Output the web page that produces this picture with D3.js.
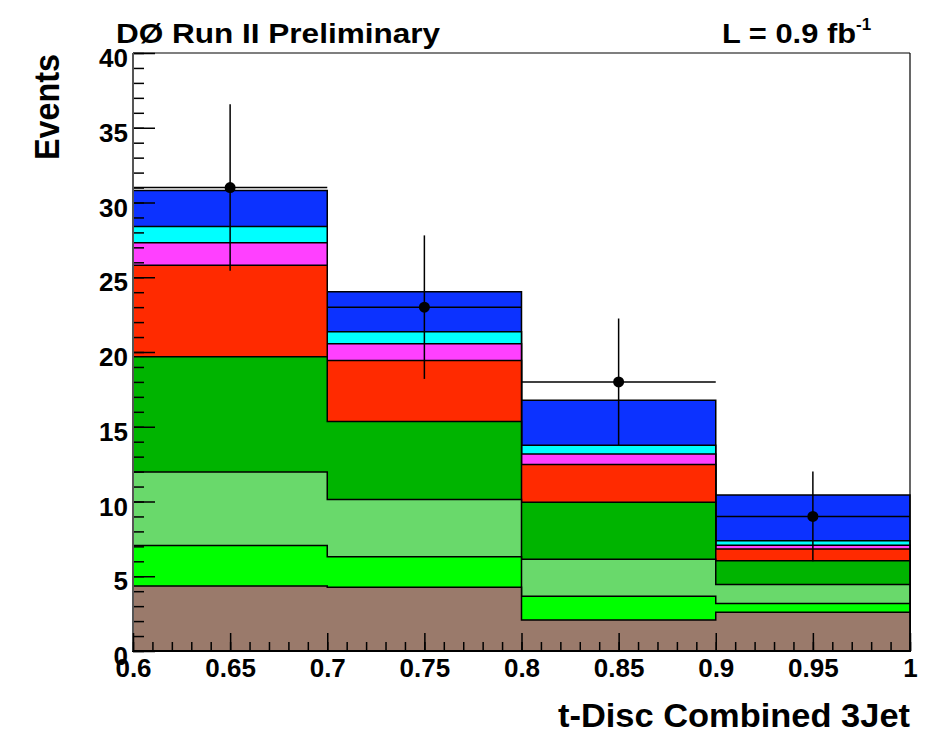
<!DOCTYPE html>
<html>
<head>
<meta charset="utf-8">
<script src="https://cdn.jsdelivr.net/npm/d3@7/dist/d3.min.js"></script>
<style>
  html, body { margin: 0; padding: 0; background: #fff; }
  svg { display: block; font-family: "Liberation Sans", Arial, Helvetica, sans-serif; font-weight: bold; }
</style>
</head>
<body>
<svg id="chart" width="936" height="730"></svg>
<script>
// Bin edges of the discriminant histogram
const binEdges = [0.6, 0.7, 0.8, 0.9, 1.0];

// Per-bin expected yields, stacked bottom to top
const multijet = [4.35, 4.26, 2.07, 2.59];
const wjj      = [2.70, 2.05, 1.59, 0.58];
const wcc      = [4.93, 3.82, 2.48, 1.27];
const wbb      = [7.70, 5.22, 3.81, 1.60];
const ttLjets  = [6.12, 4.08, 2.52, 0.79];
const ttDilep  = [1.50, 1.12, 0.70, 0.24];
const tb       = [1.10, 0.80, 0.60, 0.31];
const tqb      = [2.40, 2.68, 3.01, 3.06];

const layerNames  = ["multijet", "wjj", "wcc", "wbb", "ttLjets", "ttDilep", "tb", "tqb"];
const layerValues = [multijet, wjj, wcc, wbb, ttLjets, ttDilep, tb, tqb];
const layerColors = ["#9a7a6b", "#00ff00", "#69d96b", "#00b400", "#ff2a00", "#ff40ff", "#00ffff", "#0c32ff"];

// Observed events and their uncertainties
const dataCounts = [31, 23, 18, 9];
const dataErrors = [5.57, 4.80, 4.24, 3.00];

const yTicks = [0, 5, 10, 15, 20, 25, 30, 35, 40];
const xTicks = [0.6, 0.65, 0.7, 0.75, 0.8, 0.85, 0.9, 0.95, 1];

const svg = d3.select("#chart");
const plotL = 133, plotR = 910, plotT = 53, plotB = 651;

const x = d3.scaleLinear().domain([0.6, 1.0]).range([plotL, plotR]);
const y = d3.scaleLinear().domain([0, 40]).range([plotB, plotT]);

// Build stack table
const rows = dataCounts.map((_, i) => {
  const r = { bin: i };
  layerNames.forEach((n, k) => { r[n] = layerValues[k][i]; });
  return r;
});
const stacked = d3.stack().keys(layerNames)(rows);

// Step outline for a cumulative histogram
function stepPath(tops) {
  let p = `M${x(binEdges[0])},${y(0)}`;
  tops.forEach((v, i) => {
    p += `L${x(binEdges[i])},${y(v)}L${x(binEdges[i + 1])},${y(v)}`;
  });
  p += `L${x(binEdges[binEdges.length - 1])},${y(0)}Z`;
  return p;
}

const g = svg.append("g");
// Draw from the top of the stack downward so each lower fill covers the one above
stacked.slice().reverse().forEach((layer, idx) => {
  const k = layerNames.length - 1 - idx;
  g.append("path")
    .attr("d", stepPath(layer.map(d => d[1])))
    .attr("fill", layerColors[k])
    .attr("stroke", "#000")
    .attr("stroke-width", 1.5)
    .attr("stroke-linejoin", "miter");
});

// Data points with error bars
const dg = svg.append("g");
dataCounts.forEach((v, i) => {
  const xc = x((binEdges[i] + binEdges[i + 1]) / 2);
  dg.append("line")
    .attr("x1", x(binEdges[i])).attr("x2", x(binEdges[i + 1]))
    .attr("y1", y(v)).attr("y2", y(v))
    .attr("stroke", "#000").attr("stroke-width", 1.5);
  dg.append("line")
    .attr("x1", xc).attr("x2", xc)
    .attr("y1", y(v - dataErrors[i])).attr("y2", y(v + dataErrors[i]))
    .attr("stroke", "#000").attr("stroke-width", 1.5);
  dg.append("circle")
    .attr("cx", xc).attr("cy", y(v)).attr("r", 5.5)
    .attr("fill", "#000");
});

// Frame: top and right edges
svg.append("line").attr("x1", plotL).attr("x2", plotR).attr("y1", plotT).attr("y2", plotT)
  .attr("stroke", "#000").attr("stroke-width", 1.2);
svg.append("line").attr("x1", plotR).attr("x2", plotR).attr("y1", plotT).attr("y2", plotB)
  .attr("stroke", "#000").attr("stroke-width", 1.2);

// Y axis: ticks point into the plot
const yMinor = d3.range(0, 41, 1);
const yAxisMinor = d3.axisRight(y).tickValues(yMinor).tickSize(11).tickFormat("");
const yAxisMajor = d3.axisRight(y).tickValues(yTicks).tickSize(22).tickFormat("");
[yAxisMinor, yAxisMajor].forEach(ax => {
  const a = svg.append("g").attr("transform", `translate(${plotL},0)`).call(ax);
  a.select(".domain").remove();
  a.selectAll("line").attr("stroke", "#000").attr("stroke-width", 1.5);
});
svg.append("line").attr("x1", plotL).attr("x2", plotL).attr("y1", plotT).attr("y2", plotB)
  .attr("stroke", "#555").attr("stroke-width", 2);

const yl = svg.append("g").attr("transform", `translate(${plotL},0)`)
  .call(d3.axisLeft(y).tickValues(yTicks).tickSize(0).tickPadding(5).tickFormat(d3.format("d")));
yl.select(".domain").remove();
yl.selectAll("text").attr("font-size", 26).attr("font-weight", "bold")
  .attr("font-family", "Liberation Sans, Arial, sans-serif").attr("fill", "#000")
  .attr("dy", "0.52em");

// X axis: ticks point up into the plot
const xMinor = d3.range(60, 101, 1).map(v => v / 100);
const xAxisMinor = d3.axisTop(x).tickValues(xMinor).tickSize(9).tickFormat("");
const xAxisMajor = d3.axisTop(x).tickValues(xTicks).tickSize(18).tickFormat("");
[xAxisMinor, xAxisMajor].forEach(ax => {
  const a = svg.append("g").attr("transform", `translate(0,${plotB})`).call(ax);
  a.select(".domain").remove();
  a.selectAll("line").attr("stroke", "#000").attr("stroke-width", 1.5);
});
svg.append("line").attr("x1", plotL).attr("x2", plotR).attr("y1", plotB).attr("y2", plotB)
  .attr("stroke", "#000").attr("stroke-width", 2);

const xl = svg.append("g").attr("transform", `translate(0,${plotB})`)
  .call(d3.axisBottom(x).tickValues(xTicks).tickSize(0).tickPadding(8).tickFormat(d => String(d)));
xl.select(".domain").remove();
xl.selectAll("text").attr("font-size", 26).attr("font-weight", "bold")
  .attr("font-family", "Liberation Sans, Arial, sans-serif").attr("fill", "#000");

// Titles
svg.append("text").attr("x", plotR).attr("y", 727).attr("text-anchor", "end")
  .attr("font-size", 33).attr("textLength", 352).attr("lengthAdjust", "spacingAndGlyphs")
  .text("t-Disc Combined 3Jet");

svg.append("text").attr("transform", `translate(59,${plotT + 1}) rotate(-90)`)
  .attr("text-anchor", "end").attr("font-size", 35)
  .attr("textLength", 106).attr("lengthAdjust", "spacingAndGlyphs")
  .text("Events");

svg.append("text").attr("x", 116).attr("y", 43).attr("font-size", 28)
  .attr("textLength", 324).attr("lengthAdjust", "spacingAndGlyphs")
  .text("DØ Run II Preliminary");

const lum = svg.append("text").attr("x", 722).attr("y", 43).attr("font-size", 28);
lum.append("tspan").attr("textLength", 134).attr("lengthAdjust", "spacingAndGlyphs").text("L = 0.9 fb");
lum.append("tspan").attr("dy", -13).attr("font-size", 17).text("-1");
</script>
</body>
</html>
